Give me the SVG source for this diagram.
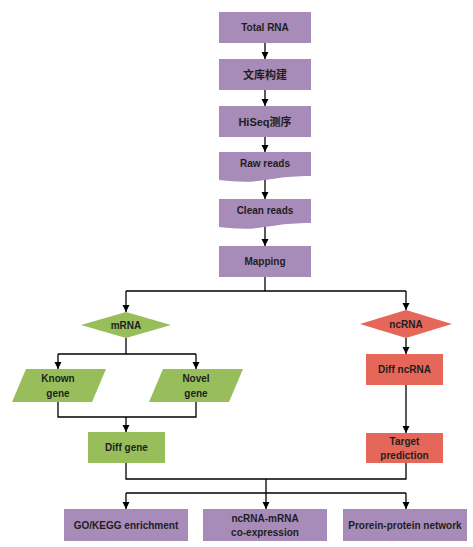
<svg xmlns="http://www.w3.org/2000/svg" width="473" height="547" viewBox="0 0 473 547">
<defs>
<marker id="ah" markerUnits="userSpaceOnUse" markerWidth="8" markerHeight="8" refX="7" refY="4" orient="auto">
<path d="M0,0.5 L7,4 L0,7.5 Z" fill="#000"/>
</marker>
<style>
.p{fill:#A78BB8}
.g{fill:#97BE5A}
.r{fill:#E5675A}
text{font-family:"Liberation Sans",Arial,sans-serif;font-weight:bold;font-size:10px;fill:#1e1e1e;text-anchor:middle;dominant-baseline:central}
.cj{font-family:"Liberation Sans","Noto Sans CJK SC",sans-serif;font-size:11px}
.c line,.c polyline{stroke:#000;stroke-width:1.3;fill:none}
.a{marker-end:url(#ah)}
</style>
</defs>
<rect width="473" height="547" fill="#fff"/>
<g class="c" id="connectors">
<line class="a" x1="265" y1="43" x2="265" y2="59"/>
<line class="a" x1="265" y1="90" x2="265" y2="106"/>
<line class="a" x1="265" y1="137" x2="265" y2="152"/>
<line class="a" x1="265" y1="180" x2="265" y2="199"/>
<line class="a" x1="265" y1="227" x2="265" y2="246"/>
<line x1="265" y1="277" x2="265" y2="291"/>
<polyline points="126,291 406,291"/>
<line class="a" x1="126" y1="291" x2="126" y2="312"/>
<line class="a" x1="406" y1="291" x2="406" y2="310"/>
<line x1="126" y1="338" x2="126" y2="354"/>
<polyline points="58,354 196,354"/>
<line class="a" x1="58" y1="354" x2="58" y2="369"/>
<line class="a" x1="196" y1="354" x2="196" y2="369"/>
<polyline points="58,402 58,417 196,417 196,402"/>
<line class="a" x1="126" y1="417" x2="126" y2="432"/>
<line class="a" x1="406" y1="338" x2="406" y2="354"/>
<line class="a" x1="406" y1="385" x2="406" y2="433"/>
<polyline points="126,463 126,479 406,479 406,463"/>
<line class="a" x1="266" y1="479" x2="266" y2="509"/>
<polyline points="126,493 406,493"/>
<line class="a" x1="126" y1="493" x2="126" y2="509"/>
<line class="a" x1="406" y1="493" x2="406" y2="509"/>
</g>
<g id="n-total"><rect class="p" x="219" y="12" width="92" height="31"/><text x="265" y="27.5">Total RNA</text></g>
<g id="n-lib"><rect class="p" x="219" y="59" width="92" height="31"/><text class="cj" x="265" y="74.5">文库构建</text></g>
<g id="n-hiseq"><rect class="p" x="219" y="106" width="92" height="31"/><text class="cj" x="265" y="121.5">HiSeq测序</text></g>
<g id="n-raw"><path class="p" d="M219,152 H311 V176 C265,176 265,185.5 219,180 Z"/><text x="265" y="163.5">Raw reads</text></g>
<g id="n-clean"><path class="p" d="M219,199 H311 V223 C265,223 265,232.5 219,227 Z"/><text x="265" y="210.5">Clean reads</text></g>
<g id="n-map"><rect class="p" x="219" y="246" width="92" height="31"/><text x="265" y="261.5">Mapping</text></g>
<g id="n-mrna"><polygon class="g" points="81,325 126,312 171,325 126,338"/><text x="126" y="325">mRNA</text></g>
<g id="n-ncrna"><polygon class="r" points="360,324 406,310 452,324 406,338"/><text x="406" y="324">ncRNA</text></g>
<g id="n-known"><polygon class="g" points="26,369 106,369 92,402 12,402"/><text x="58" y="378">Known</text><text x="58" y="393">gene</text></g>
<g id="n-novel"><polygon class="g" points="163,369 243,369 229,402 149,402"/><text x="196" y="378">Novel</text><text x="196" y="393">gene</text></g>
<g id="n-diffgene"><rect class="g" x="88" y="432" width="77" height="31"/><text x="126.5" y="447.5">Diff gene</text></g>
<g id="n-diffnc"><rect class="r" x="366" y="354" width="77" height="31"/><text x="404.5" y="369.5">Diff ncRNA</text></g>
<g id="n-target"><rect class="r" x="366" y="433" width="77" height="30"/><text x="404.5" y="441.5">Target</text><text x="404.5" y="455">prediction</text></g>
<g id="n-go"><rect class="p" x="64" y="509" width="124" height="32"/><text x="126" y="525">GO/KEGG enrichment</text></g>
<g id="n-coexp"><rect class="p" x="203" y="509" width="124" height="32"/><text x="265" y="518.5">ncRNA-mRNA</text><text x="265" y="532">co-expression</text></g>
<g id="n-ppi"><rect class="p" x="343" y="509" width="124" height="32"/><text x="405" y="525">Prorein-protein network</text></g>
</svg>
